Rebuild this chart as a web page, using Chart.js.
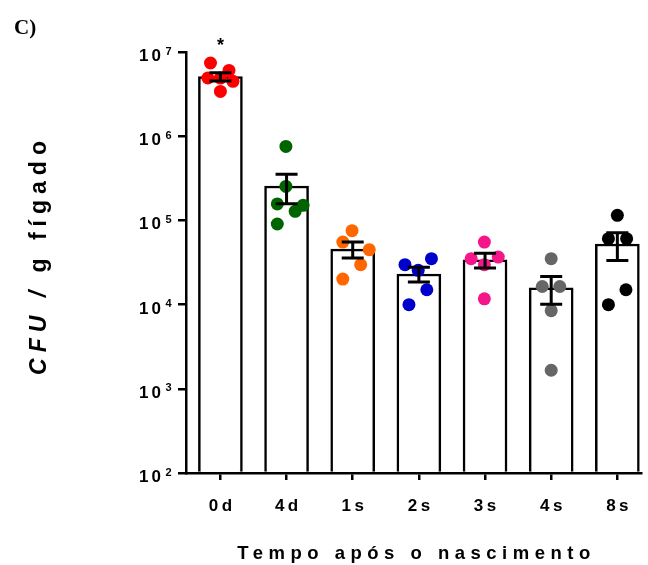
<!DOCTYPE html>
<html><head><meta charset="utf-8">
<script src="https://cdn.jsdelivr.net/npm/chart.js@4/dist/chart.umd.min.js"></script>
<style>html,body{margin:0;padding:0;background:#fff;} canvas{display:block;}</style>
</head><body>
<canvas id="c" width="648" height="565" style="width:648px;height:565px"></canvas>
<script>
// ---- data ----
const categories = ['0d', '4d', '1s', '2s', '3s', '4s', '8s'];
const means = [5.1e6, 2.56e5, 4.55e4, 2.31e4, 3.4e4, 1.58e4, 5.25e4];
const sems  = [5.8e5, 9.8e4, 9.8e3, 4.6e3, 6.7e3, 5.7e3, 1.9e4];
const pts0d = [7.4e6, 6.04e6, 4.91e6, 4.48e6, 3.4e6, 4.9e6];
const pts4d = [7.57e5, 2.53e5, 1.57e5, 1.28e5, 1.51e5, 9.06e4];
const pts1s = [7.55e4, 5.53e4, 4.49e4, 2.98e4, 2.01e4];
const pts2s = [2.98e4, 2.55e4, 3.51e4, 1.50e4, 9.97e3];
const pts3s = [5.53e4, 3.51e4, 2.98e4, 3.67e4, 1.17e4];
const pts4s = [3.51e4, 1.64e4, 1.64e4, 8.47e3, 1.66e3];
const pts8s = [1.15e5, 6.06e4, 6.06e4, 1.50e4, 9.97e3];
const yTickValues = [1e2, 1e3, 1e4, 1e5, 1e6, 1e7];
const significance = ['*', '', '', '', '', '', ''];
const yTitleItalic = 'CFU /';
const yTitleRest = ' g fígado';
const xTitle = 'Tempo após o nascimento';
const panelLabel = 'C)';

// horizontal scatter of the dots within each column (category units)
const jitter = [
  [-0.15, 0.13, -0.19, 0.19, 0, 0],
  [-0.01, -0.01, -0.14, 0.13, 0.25, -0.14],
  [-0.01, -0.15, 0.25, 0.12, -0.15],
  [-0.21, -0.01, 0.19, 0.12, -0.15],
  [-0.01, -0.21, -0.01, 0.2, -0.01],
  [0, -0.135, 0.13, 0, 0],
  [0, -0.135, 0.14, 0.13, -0.135]
];
const groupColors = ['#FF0000', '#006400', '#FF6600', '#0000CC', '#F5168A', '#666666', '#000000'];

const groups = [pts0d, pts4d, pts1s, pts2s, pts3s, pts4s, pts8s];
const barData = means.map((m, i) => ({x: i, y: m}));
const scatterData = [], scatterColors = [];
groups.forEach((vals, i) => vals.forEach((v, j) => {
  scatterData.push({x: i + jitter[i][j], y: v});
  scatterColors.push(groupColors[i]);
}));

const FONT = '"Liberation Sans", Arial, Helvetica, sans-serif';

const errorBars = {
  id: 'errorBars',
  afterDatasetsDraw(chart) {
    const ctx = chart.ctx, xs = chart.scales.x, ys = chart.scales.y;
    ctx.save();
    ctx.strokeStyle = '#000';
    ctx.lineWidth = 3;
    ctx.lineCap = 'butt';
    means.forEach((m, i) => {
      const px = xs.getPixelForValue(i);
      const top = ys.getPixelForValue(m + sems[i]);
      const bot = ys.getPixelForValue(m - sems[i]);
      ctx.beginPath();
      ctx.moveTo(px, top); ctx.lineTo(px, bot);
      ctx.moveTo(px - 11, top); ctx.lineTo(px + 11, top);
      ctx.moveTo(px - 11, bot); ctx.lineTo(px + 11, bot);
      ctx.stroke();
    });
    ctx.restore();
  }
};

const texts = {
  id: 'texts',
  afterDraw(chart) {
    const ctx = chart.ctx, xs = chart.scales.x, ys = chart.scales.y;
    const area = chart.chartArea;
    ctx.save();
    ctx.fillStyle = '#000';
    ctx.textBaseline = 'alphabetic';
    // y tick labels 10^n
    yTickValues.forEach(v => {
      const py = ys.getPixelForValue(v);
      const e = Math.round(Math.log10(v));
      ctx.font = 'bold 17px ' + FONT;
      ctx.letterSpacing = '3px';
      ctx.textAlign = 'right';
      ctx.fillText('10', 164, py + 9);
      ctx.font = 'bold 11px ' + FONT;
      ctx.letterSpacing = '0px';
      ctx.textAlign = 'left';
      ctx.fillText(String(e), 165.5, py + 2.5);
    });
    // x tick labels
    ctx.font = 'bold 17px ' + FONT;
    ctx.letterSpacing = '3.5px';
    ctx.textAlign = 'center';
    categories.forEach((c, i) => {
      ctx.fillText(c, xs.getPixelForValue(i) + 1.75, 511);
    });
    // significance marks
    ctx.font = 'bold 18px ' + FONT;
    ctx.letterSpacing = '0px';
    significance.forEach((s, i) => {
      if (s) ctx.fillText(s, xs.getPixelForValue(i), 50.5);
    });
    // x title
    ctx.font = 'bold 18.5px ' + FONT;
    ctx.letterSpacing = '5.5px';
    ctx.fillText(xTitle, (area.left + area.right) / 2 + 2.75, 559);
    // y title (rotated)
    ctx.save();
    ctx.translate(46, 258);
    ctx.rotate(-Math.PI / 2);
    const sp = 6;
    ctx.letterSpacing = sp + 'px';
    ctx.textAlign = 'left';
    ctx.font = 'italic bold 23px ' + FONT;
    const w1 = ctx.measureText(yTitleItalic).width;
    ctx.font = 'bold 23px ' + FONT;
    const w2 = ctx.measureText(yTitleRest).width;
    const start = -(w1 + w2 - sp) / 2;
    ctx.font = 'italic bold 23px ' + FONT;
    ctx.fillText(yTitleItalic, start, 0);
    ctx.font = 'bold 23px ' + FONT;
    ctx.fillText(yTitleRest, start + w1, 0);
    ctx.restore();
    // panel label
    ctx.letterSpacing = '0px';
    ctx.textAlign = 'left';
    ctx.font = 'bold 21px "Liberation Serif", "Times New Roman", serif';
    ctx.fillText(panelLabel, 14, 33.5);
    ctx.restore();
  }
};

new Chart(document.getElementById('c'), {
  type: 'bar',
  data: {
    datasets: [
      {type: 'scatter', data: scatterData, pointBackgroundColor: scatterColors,
       pointBorderWidth: 0, borderWidth: 0, pointRadius: 6.5, pointHoverRadius: 6.5, order: 0},
      {type: 'bar', data: barData, backgroundColor: '#FFFFFF', borderColor: '#000000',
       borderWidth: 2.5, borderSkipped: 'start', barThickness: 44, base: 100, order: 1}
    ]
  },
  options: {
    responsive: false,
    animation: false,
    devicePixelRatio: 1,
    layout: {padding: {top: 52, left: 0, right: 3, bottom: 0}},
    plugins: {legend: {display: false}, tooltip: {enabled: false}},
    scales: {
      x: {
        type: 'linear', min: -0.52, max: 6.365, offset: false,
        afterBuildTicks: s => { s.ticks = categories.map((c, i) => ({value: i})); },
        ticks: {display: false},
        grid: {offset: false, drawOnChartArea: false, drawTicks: true, tickLength: 7, tickWidth: 2.5, tickColor: '#000', color: '#000', lineWidth: 2.5},
        border: {display: true, color: '#000', width: 2.5},
        afterFit: s => { s.height = 92; }
      },
      y: {
        type: 'logarithmic', min: 100, max: 1e7,
        afterBuildTicks: s => { s.ticks = yTickValues.map(v => ({value: v})); },
        ticks: {display: false},
        grid: {drawOnChartArea: false, drawTicks: true, tickLength: 8, tickWidth: 2.5, tickColor: '#000', color: '#000', lineWidth: 2.5},
        border: {display: true, color: '#000', width: 2.5},
        afterFit: s => { s.width = 186; }
      }
    }
  },
  plugins: [errorBars, texts]
});
</script>
</body></html>
